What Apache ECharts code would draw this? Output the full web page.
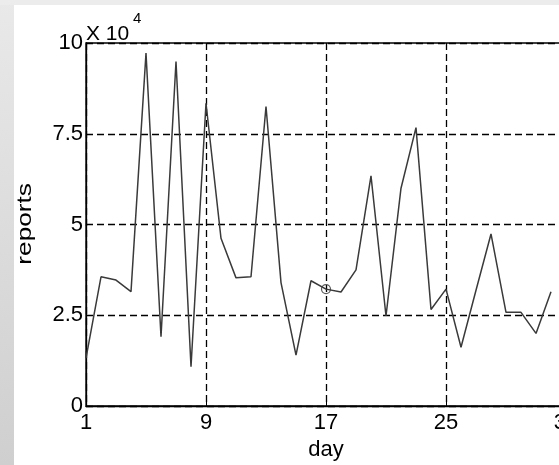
<!DOCTYPE html>
<html>
<head>
<meta charset="utf-8">
<script src="https://cdn.jsdelivr.net/npm/echarts@6/dist/echarts.min.js"></script>
<style>
  html, body { margin: 0; padding: 0; width: 559px; height: 465px; overflow: hidden; }
  body { background: linear-gradient(to bottom, #e9e9e9, #cfcfcf); position: relative; }
  .topstrip { position: absolute; left: 0; top: 0; width: 559px; height: 5px; background: #ececec; }
  /* plot box runs past the right edge of the window, as in the cropped original */
  #chart { position: absolute; left: 14px; top: 5px; width: 560px; height: 460px; background: #fff; }
</style>
</head>
<body>
<div class="topstrip"></div>
<div id="chart"></div>
<script>
// days 1..32, reports in units of 10^4
const days = [1, 2, 3, 4, 5, 6, 7, 8, 9, 10, 11, 12, 13, 14, 15, 16,
  17, 18, 19, 20, 21, 22, 23, 24, 25, 26, 27, 28, 29, 30, 31, 32];
const reports = [1.32, 3.56, 3.47, 3.15, 9.72, 1.91, 9.49, 1.08, 8.34, 4.62, 3.53, 3.56,
  8.25, 3.4, 1.4, 3.45, 3.22, 3.14, 3.75, 6.34, 2.48, 6.0, 7.67, 2.66,
  3.22, 1.62, 3.19, 4.74, 2.58, 2.58, 2.0, 3.15];
const xTicks = [1, 9, 17, 25, 33];
const yTicks = [0, 2.5, 5, 7.5, 10];
const markedDay = 17;

const FONT = 'Liberation Sans, Arial, sans-serif';

let chart = echarts.init(document.getElementById('chart'), null, { renderer: 'canvas' });

const lineData = days.map(function (d, i) { return [d, reports[i]]; });
const markIdx = days.indexOf(markedDay);

let option = {
  animation: false,
  backgroundColor: '#fff',
  grid: {
    left: 72,
    top: 38,
    right: 8,
    bottom: 59,
    outerBoundsMode: 'none',
    containLabel: false,
    show: true,
    borderColor: '#000',
    borderWidth: 1.3,
    backgroundColor: 'transparent'
  },
  xAxis: {
    type: 'value',
    min: 1,
    max: 33,
    interval: 8,
    axisLine: { show: true, lineStyle: { color: '#000', width: 1.3 } },
    axisTick: { show: true, inside: true, length: 5, lineStyle: { color: '#000' } },
    axisLabel: {
      color: '#000', fontFamily: FONT, fontSize: 22, margin: 6,
      formatter: function (v) { return xTicks.indexOf(v) >= 0 ? String(v) : ''; }
    },
    splitLine: { show: true, lineStyle: { color: '#000', width: 1.3, type: [7, 4] } },
    name: 'day',
    nameLocation: 'middle',
    nameGap: 30,
    nameTextStyle: { color: '#000', fontFamily: FONT, fontSize: 22 }
  },
  yAxis: {
    type: 'value',
    min: 0,
    max: 10,
    interval: 2.5,
    axisLine: { show: true, lineStyle: { color: '#000', width: 1.3 } },
    axisTick: { show: true, inside: true, length: 5, lineStyle: { color: '#000' } },
    axisLabel: {
      color: '#000', fontFamily: FONT, fontSize: 22, margin: 3,
      formatter: function (v) { return yTicks.indexOf(v) >= 0 ? String(v) : ''; }
    },
    splitLine: { show: true, lineStyle: { color: '#000', width: 1.3, type: [7, 4] } }
  },
  graphic: [
    {
      type: 'text',
      left: 1,
      top: 178,
      rotation: Math.PI / 2,
      scaleX: 1.25,
      style: { text: 'reports', fill: '#000', font: '21px ' + FONT }
    },
    {
      type: 'text',
      left: 72,
      top: 19,
      style: { text: 'X 10', fill: '#000', font: '21px ' + FONT }
    },
    {
      type: 'text',
      left: 119,
      top: 6,
      style: { text: '4', fill: '#000', font: '15px ' + FONT }
    }
  ],
  series: [
    {
      type: 'line',
      data: lineData,
      showSymbol: false,
      symbol: 'none',
      lineStyle: { color: '#3a3a3a', width: 1.5 },
      silent: true
    },
    {
      type: 'scatter',
      data: [lineData[markIdx]],
      symbol: 'circle',
      symbolSize: 9,
      itemStyle: { color: 'rgba(0,0,0,0)', borderColor: '#333', borderWidth: 1.2 },
      silent: true
    }
  ]
};

chart.setOption(option);
</script>
</body>
</html>
